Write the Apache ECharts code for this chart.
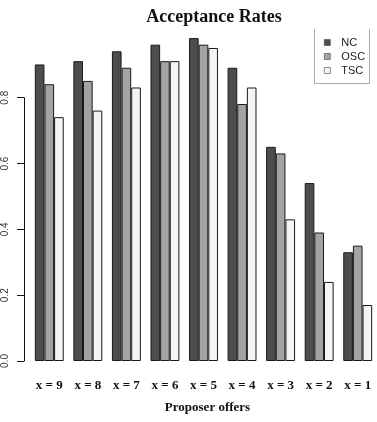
<!DOCTYPE html>
<html>
<head>
<meta charset="utf-8">
<script src="https://cdn.jsdelivr.net/npm/echarts@6/dist/echarts.min.js"></script>
<style>
  html, body { margin: 0; padding: 0; background: #fff; }
  #chart { width: 377px; height: 422px; }
</style>
</head>
<body>
<div id="chart"></div>
<script>
// offers shown left to right
var offers = ["x = 9", "x = 8", "x = 7", "x = 6", "x = 5", "x = 4", "x = 3", "x = 2", "x = 1"];
var nc  = [0.90, 0.91, 0.94, 0.96, 0.98, 0.89, 0.65, 0.54, 0.33];
var osc = [0.84, 0.85, 0.89, 0.91, 0.96, 0.78, 0.63, 0.39, 0.35];
var tsc = [0.74, 0.76, 0.83, 0.91, 0.95, 0.83, 0.43, 0.24, 0.17];
var yTicks = [0, 0.2, 0.4, 0.6, 0.8];

var serif = "'Liberation Serif', 'DejaVu Serif', serif";
var sans = "'Liberation Sans', Arial, sans-serif";

function barSeries(name, data, color) {
  return {
    name: name,
    type: "bar",
    xAxisIndex: 0,
    yAxisIndex: 0,
    barGap: "0%",
    barCategoryGap: "25%",
    itemStyle: { color: color, borderColor: "#1a1a1a", borderWidth: 1 },
    data: data,
  };
}

var myChart = echarts.init(document.getElementById("chart"));
myChart.setOption({
  animation: false,
  title: {
    text: "Acceptance Rates",
    left: 209,
    top: 3,
    textAlign: "center",
    textStyle: { fontFamily: serif, fontWeight: "bold", fontSize: 18, color: "#111" },
  },
  // legend frame, its top edge is cut off in the original
  graphic: [
    {
      type: "polyline",
      shape: { points: [[314.5, 29], [314.5, 83.5], [369.5, 83.5], [369.5, 29]] },
      style: { stroke: "#aaa", lineWidth: 1, fill: null },
    },
  ],
  legend: {
    orient: "vertical",
    left: 314,
    top: 29,
    padding: [7, 4, 6, 10],
    itemGap: 1,
    itemWidth: 6,
    itemHeight: 6,
    icon: "rect",
    itemStyle: { borderColor: "#444", borderWidth: 0.6 },
    data: ["NC", "OSC", "TSC"],
    textStyle: { fontFamily: sans, fontSize: 11, color: "#222", lineHeight: 13, padding: [0, 0, 0, 6] },
  },
  grid: [
    // bars
    { left: 30, width: 347.5, top: 31.5, bottom: 61 },
    // y axis drawn only from 0 to 0.8, like R
    { left: 30, width: 347.5, top: 97.7, bottom: 61 },
  ],
  xAxis: [
    {
      type: "category",
      gridIndex: 0,
      data: offers,
      axisLine: { show: false },
      axisTick: { show: false },
      axisLabel: {
        margin: 18,
        interval: 0,
        fontFamily: serif,
        fontWeight: "bold",
        fontSize: 13,
        color: "#111",
      },
      name: "Proposer offers",
      nameLocation: "middle",
      nameGap: 40,
      nameTextStyle: {
        fontFamily: serif,
        fontWeight: "bold",
        fontSize: 13,
        color: "#111",
        padding: [0, 0, 0, 8],
      },
    },
    {
      type: "category",
      gridIndex: 1,
      data: offers,
      show: false,
    },
  ],
  yAxis: [
    {
      type: "value",
      gridIndex: 0,
      min: 0,
      max: 1,
      show: false,
      splitLine: { show: false },
    },
    {
      type: "value",
      gridIndex: 1,
      min: 0,
      max: 0.8,
      interval: 0.2,
      offset: 8,
      splitLine: { show: false },
      axisLine: { show: true, lineStyle: { color: "#111", width: 1 } },
      axisTick: { show: true, length: 7, lineStyle: { color: "#111" } },
      axisLabel: {
        rotate: 90,
        margin: 14,
        fontFamily: sans,
        fontSize: 10,
        color: "#333",
        formatter: function (v) {
          return v.toFixed(1);
        },
      },
    },
  ],
  series: [
    barSeries("NC", nc, "#4d4d4d"),
    barSeries("OSC", osc, "#a3a3a3"),
    barSeries("TSC", tsc, "#f4f4f4"),
  ],
});
</script>
</body>
</html>
